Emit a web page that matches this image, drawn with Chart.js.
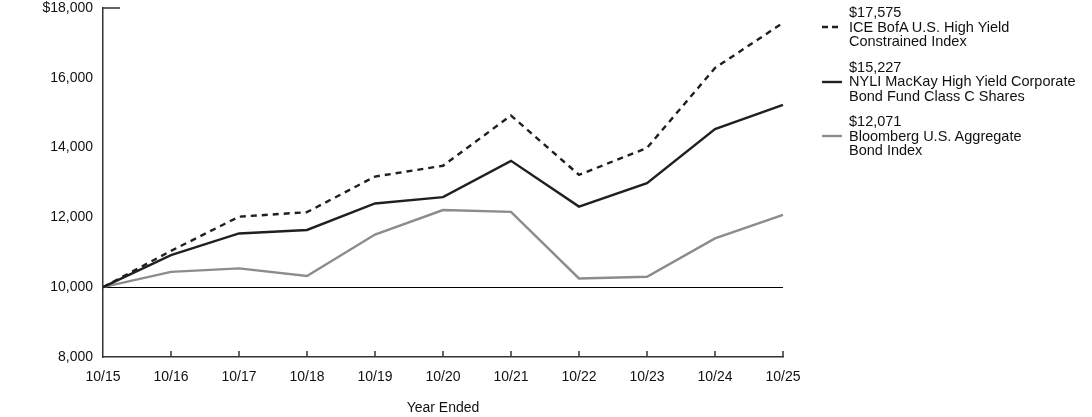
<!DOCTYPE html>
<html>
<head>
<meta charset="utf-8">
<script src="https://cdn.jsdelivr.net/npm/chart.js@4"></script>
<style>
    html, body { margin: 0; padding: 0; background: #fff; }
    #wrap { position: relative; width: 1092px; height: 417px; }
    #legend { position: absolute; left: 822px; top: 5px; font-family: "Liberation Sans", Arial, sans-serif; font-size: 14.5px; line-height: 14.5px; color: #111; }
    .item { position: relative; padding-left: 27px; margin-bottom: 11px; }
    .item svg { position: absolute; left: 0; top: 20px; }
</style>
</head>
<body>
<div id="wrap">
    <canvas id="growthChart" width="1092" height="417"></canvas>
    <div id="legend"></div>
</div>
<script>
var years = ['10/15', '10/16', '10/17', '10/18', '10/19', '10/20', '10/21', '10/22', '10/23', '10/24', '10/25'];
var iceHighYield = [10000, 11040, 12020, 12150, 13170, 13480, 14920, 13220, 13990, 16280, 17575];
var nyliFund = [10000, 10920, 11540, 11640, 12400, 12580, 13620, 12310, 12980, 14530, 15227];
var bloombergAgg = [10000, 10440, 10540, 10320, 11510, 12210, 12160, 10250, 10300, 11400, 12071];
var yTicks = [8000, 10000, 12000, 14000, 16000, 18000];

var legendItems = [
    { value: '$17,575', name: ['ICE BofA U.S. High Yield', 'Constrained Index'], color: '#1f1f1f', dash: '6,4' },
    { value: '$15,227', name: ['NYLI MacKay High Yield Corporate', 'Bond Fund Class C Shares'], color: '#231f20', dash: '' },
    { value: '$12,071', name: ['Bloomberg U.S. Aggregate', 'Bond Index'], color: '#8c8c8c', dash: '' }
];

var legend = document.getElementById('legend');
legendItems.forEach(function (it) {
    var div = document.createElement('div');
    div.className = 'item';
    div.innerHTML = '<svg width="20" height="4"><line x1="0" y1="2" x2="20" y2="2" stroke="' + it.color +
        '" stroke-width="2.4"' + (it.dash ? ' stroke-dasharray="' + it.dash + '"' : '') + '/></svg>' +
        it.value + '<br>' + it.name.join('<br>');
    legend.appendChild(div);
});

// axis extras: inward x ticks, top y tick, 10,000 baseline
var axisExtras = {
    id: 'axisExtras',
    beforeDatasetsDraw: function (chart) {
        var ctx = chart.ctx, x = chart.scales.x, y = chart.scales.y, a = chart.chartArea;
        ctx.save();
        ctx.strokeStyle = '#000';
        ctx.lineWidth = 1.2;
        var base = Math.round(y.getPixelForValue(10000)) + 0.5;
        ctx.beginPath();
        ctx.moveTo(a.left, base);
        ctx.lineTo(a.right, base);
        ctx.stroke();
        ctx.strokeStyle = '#333';
        ctx.lineWidth = 1.5;
        ctx.beginPath();
        for (var i = 1; i < years.length; i++) {
            var px = x.getPixelForValue(i);
            ctx.moveTo(px, a.bottom);
            ctx.lineTo(px, a.bottom - 6);
        }
        var top = y.getPixelForValue(18000);
        ctx.moveTo(a.left, top);
        ctx.lineTo(a.left + 17, top);
        ctx.stroke();
        ctx.restore();
    }
};

new Chart(document.getElementById('growthChart'), {
    type: 'line',
    data: {
        labels: years,
        datasets: [{
            label: 'ICE BofA U.S. High Yield Constrained Index',
            data: iceHighYield,
            borderColor: '#1f1f1f',
            borderWidth: 2.4,
            borderDash: [6, 5],
            pointRadius: 0,
            tension: 0
        }, {
            label: 'NYLI MacKay High Yield Corporate Bond Fund Class C Shares',
            data: nyliFund,
            borderColor: '#231f20',
            borderWidth: 2.4,
            pointRadius: 0,
            tension: 0
        }, {
            label: 'Bloomberg U.S. Aggregate Bond Index',
            data: bloombergAgg,
            borderColor: '#8c8c8c',
            borderWidth: 2.4,
            pointRadius: 0,
            tension: 0
        }]
    },
    options: {
        responsive: false,
        animation: false,
        layout: { padding: { top: 8, right: 309, left: 0, bottom: 0 } },
        plugins: { legend: { display: false }, tooltip: { enabled: false } },
        scales: {
            x: {
                offset: false,
                grid: { display: false, drawTicks: false },
                border: { color: '#333', width: 1.5 },
                ticks: { color: '#111', padding: 12, maxRotation: 0, autoSkip: false,
                         font: { family: '"Liberation Sans", Arial, sans-serif', size: 14 } },
                title: { display: true, text: 'Year Ended', color: '#111', padding: { top: 10, bottom: 0 },
                         font: { family: '"Liberation Sans", Arial, sans-serif', size: 14 } },
                afterFit: function (s) { s.height = 60; }
            },
            y: {
                min: 8000,
                max: 18000,
                afterBuildTicks: function (s) { s.ticks = yTicks.map(function (v) { return { value: v }; }); },
                grid: { display: false, drawTicks: false },
                border: { color: '#333', width: 1.5 },
                ticks: {
                    color: '#111',
                    padding: 10,
                    font: { family: '"Liberation Sans", Arial, sans-serif', size: 14 },
                    callback: function (v) { return (v === 18000 ? '$' : '') + v.toLocaleString('en-US'); }
                },
                afterFit: function (s) { s.width = 103; s.paddingTop = 0; s.paddingBottom = 0; }
            }
        }
    },
    plugins: [axisExtras]
});
</script>
</body>
</html>
